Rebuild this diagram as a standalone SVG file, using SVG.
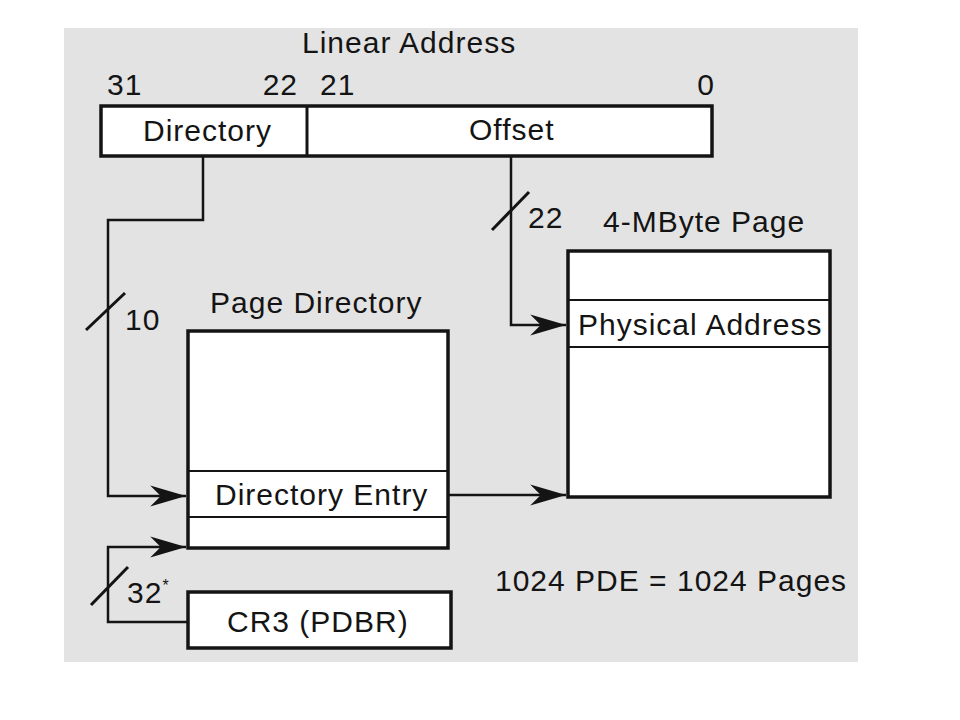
<svg xmlns="http://www.w3.org/2000/svg" width="960" height="720" viewBox="0 0 960 720">
<style>
text{font-family:"Liberation Sans",Arial,sans-serif;font-size:30px;letter-spacing:1px;fill:#141414}
.box{fill:#fff;stroke:#141414;stroke-width:3.5}
.div{stroke:#141414;stroke-width:2.2;fill:none}
.con{stroke:#141414;stroke-width:2.5;fill:none}
</style>
<defs>
<marker id="arr" markerUnits="userSpaceOnUse" markerWidth="40" markerHeight="30" viewBox="-36 -12 38 24" refX="0" refY="0" orient="auto">
<path d="M0,0 L-34,-10 L-24,0 L-34,10 Z" fill="#141414"/>
</marker>
</defs>
<rect x="64" y="28" width="794" height="634" fill="#e3e3e3"/>
<g id="linear-address">
<text x="302" y="53">Linear Address</text>
<text x="107" y="95">31</text>
<text x="298" y="95" text-anchor="end">22</text>
<text x="320" y="95">21</text>
<text x="706" y="95" text-anchor="middle">0</text>
<rect class="box" x="101" y="106" width="611" height="50"/>
<line class="div" x1="307" y1="106" x2="307" y2="156" style="stroke-width:3"/>
<text x="143" y="141">Directory</text>
<text x="469" y="140">Offset</text>
</g>
<g id="page-directory">
<text x="210" y="313">Page Directory</text>
<rect class="box" x="188" y="331" width="260" height="217"/>
<line class="div" x1="188" y1="471" x2="448" y2="471"/>
<line class="div" x1="188" y1="517" x2="448" y2="517"/>
<text x="215" y="505">Directory Entry</text>
</g>
<g id="page-4mb">
<text x="603" y="232">4-MByte Page</text>
<rect class="box" x="568" y="251" width="262" height="246"/>
<line class="div" x1="568" y1="300" x2="830" y2="300"/>
<line class="div" x1="568" y1="347" x2="830" y2="347"/>
<text x="578" y="335">Physical Address</text>
</g>
<g id="cr3">
<rect class="box" x="188" y="592" width="263" height="56"/>
<text x="227" y="632">CR3 (PDBR)</text>
</g>
<g id="note">
<text x="495" y="591">1024 PDE = 1024 Pages</text>
</g>
<g id="connectors">
<polyline class="con" points="203,156 203,220 108,220 108,496 186,496" marker-end="url(#arr)"/>
<polyline class="con" points="511,156 511,325 566,325" marker-end="url(#arr)"/>
<polyline class="con" points="448,495 566,495" marker-end="url(#arr)"/>
<polyline class="con" points="188,622 108,622 108,547 186,547" marker-end="url(#arr)"/>
<line class="con" x1="86" y1="330" x2="125" y2="293" style="stroke-width:3"/>
<line class="con" x1="492" y1="230" x2="529" y2="192" style="stroke-width:3"/>
<line class="con" x1="91" y1="605" x2="128" y2="567" style="stroke-width:3"/>
<text x="125" y="330">10</text>
<text x="528" y="228">22</text>
<text x="127" y="603">32<tspan font-size="16" dy="-12">*</tspan></text>
</g>
</svg>
